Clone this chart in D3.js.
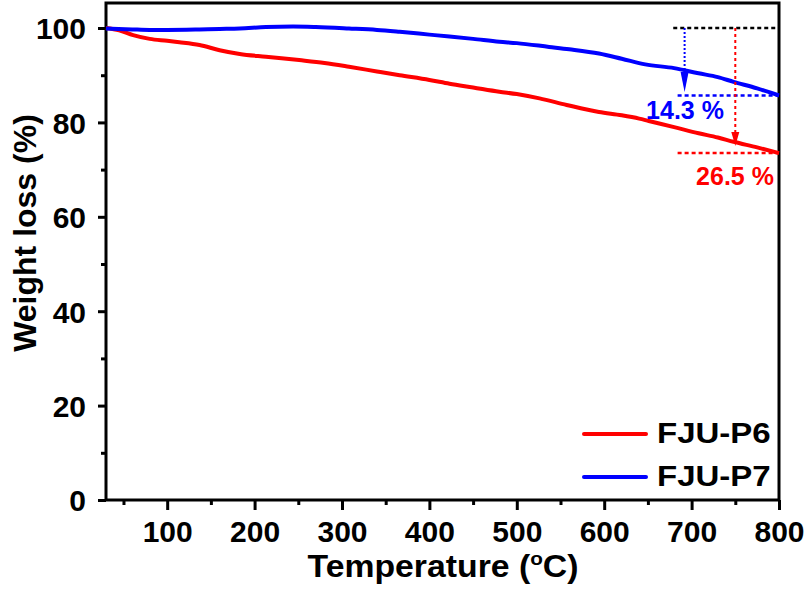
<!DOCTYPE html>
<html><head><meta charset="utf-8">
<script src="https://cdn.jsdelivr.net/npm/d3@7"></script>
<style>body{margin:0;background:#fff}svg{display:block}text{font-family:"Liberation Sans",Arial,sans-serif;font-weight:bold}</style>
</head><body>
<svg id="c" width="810" height="590"></svg>
<script>
const tempsP6 = [30, 45, 61, 80, 100, 114, 137, 160, 183, 213, 251, 280, 308, 340, 366, 400, 423, 450, 480, 500, 526, 557, 594, 620, 640, 651, 680, 708, 730, 748, 775, 800];
const p6 = [100, 99.5, 98.5, 97.7, 97.3, 97.0, 96.4, 95.3, 94.5, 93.9, 93.2, 92.6, 91.8, 90.8, 90.0, 89.0, 88.2, 87.4, 86.5, 86.0, 85.1, 83.7, 82.2, 81.5, 80.8, 80.3, 79.0, 77.7, 76.8, 75.9, 74.7, 73.5];
const tempsP7 = [30, 60, 80, 100, 137, 160, 183, 213, 244, 270, 308, 340, 366, 400, 423, 450, 480, 500, 537, 560, 594, 620, 647, 680, 708, 730, 748, 775, 800];
const p7 = [99.9, 99.7, 99.6, 99.6, 99.7, 99.8, 99.9, 100.2, 100.3, 100.2, 99.9, 99.6, 99.2, 98.6, 98.2, 97.7, 97.1, 96.8, 96.0, 95.5, 94.6, 93.5, 92.3, 91.5, 90.4, 89.6, 88.6, 87.2, 85.7];
const seriesNames = ["FJU-P6", "FJU-P7"];
const seriesColors = ["#ff0000", "#0000ff"];
const xTicks = [100, 200, 300, 400, 500, 600, 700, 800];
const yTicks = [0, 20, 40, 60, 80, 100];
const annotLabels = ["14.3 %", "26.5 %"];
const annotTemps = [692, 750];
const annotEnd = [85.7, 73.5];

const svg = d3.select("#c");
const L = 106, R = 779, T = 3, B = 500;
const x = d3.scaleLinear().domain([30, 800]).range([L, R]);
const y = d3.scaleLinear().domain([0, 105.3]).range([B, T]);

// frame
svg.append("rect").attr("x", L).attr("y", T).attr("width", R - L).attr("height", B - T)
  .attr("fill", "none").attr("stroke", "#000").attr("stroke-width", 3);

// axes
const xa = svg.append("g").attr("transform", `translate(0,${B})`)
  .call(d3.axisBottom(x).tickValues(xTicks).tickSize(10).tickPadding(9).tickFormat(d3.format("d")));
const xm = svg.append("g").attr("transform", `translate(0,${B})`)
  .call(d3.axisBottom(x).tickValues(d3.range(50, 800, 100)).tickSize(5).tickFormat(""));
const ya = svg.append("g").attr("transform", `translate(${L},0)`)
  .call(d3.axisLeft(y).tickValues(yTicks).tickSize(8).tickPadding(12).tickFormat(d3.format("d")));
const ym = svg.append("g").attr("transform", `translate(${L},0)`)
  .call(d3.axisLeft(y).tickValues(d3.range(10, 101, 20)).tickSize(5).tickFormat(""));
[xa, xm, ya, ym].forEach(g => {
  g.select(".domain").remove();
  g.selectAll(".tick line").attr("stroke", "#000").attr("stroke-width", 3);
  g.selectAll("text").attr("fill", "#000").style("font-size", "30px")
    .style("font-family", "'Liberation Sans', Arial, sans-serif").style("font-weight", "bold");
});
xa.selectAll("text").attr("dy", "0.78em");
ya.selectAll("text").attr("dy", "0.36em");

// axis titles
const xt = svg.append("text").attr("transform", "translate(443,577) scale(1.09,1)").attr("text-anchor", "middle")
  .style("font-size", "31px").attr("fill", "#000");
xt.append("tspan").text("Temperature (");
xt.append("tspan").text("o").style("font-size", "19px").attr("dy", "-12");
xt.append("tspan").text("C)").attr("dy", "12");
svg.append("text").attr("transform", "translate(36,233) rotate(-90)").attr("text-anchor", "middle")
  .style("font-size", "32px").attr("fill", "#000").text("Weight loss (%)");

// lines
[[tempsP6, p6], [tempsP7, p7]].forEach(([ts, s], k) => {
  const line = d3.line().x((d, i) => x(ts[i])).y(d => y(d)).curve(d3.curveMonotoneX);
  svg.append("path").attr("d", line(s)).attr("fill", "none")
    .attr("stroke", seriesColors[k]).attr("stroke-width", 4).attr("stroke-linejoin", "round");
});

// annotations
const dash = "4,3";
svg.append("line").attr("x1", x(679)).attr("x2", x(796)).attr("y1", y(100)).attr("y2", y(100))
  .attr("stroke", "#000").attr("stroke-width", 2.5).attr("stroke-dasharray", dash);
[0, 1].forEach(k => {
  const c = seriesColors[1 - k];
  const ax = x(annotTemps[k]);
  const yEnd = y(annotEnd[k]);
  svg.append("line").attr("x1", x(684)).attr("x2", R).attr("y1", yEnd).attr("y2", yEnd)
    .attr("stroke", c).attr("stroke-width", 2.5).attr("stroke-dasharray", dash);
  const tipY = k === 0 ? yEnd - 3.5 : yEnd - 7;
  const headLen = k === 0 ? 20 : 14;
  svg.append("line").attr("x1", ax).attr("x2", ax).attr("y1", y(100)).attr("y2", tipY - headLen)
    .attr("stroke", c).attr("stroke-width", 2).attr("stroke-dasharray", k === 0 ? "2,2" : "3,3");
  svg.append("path").attr("d", `M${ax - 4},${tipY - headLen}L${ax + 4},${tipY - headLen}L${ax},${tipY}Z`).attr("fill", c);
});
svg.append("text").attr("x", 685).attr("y", 119).attr("text-anchor", "middle").style("font-size", "25px")
  .attr("fill", seriesColors[1]).text(annotLabels[0]);
svg.append("text").attr("x", 735).attr("y", 185).attr("text-anchor", "middle").style("font-size", "25px")
  .attr("fill", seriesColors[0]).text(annotLabels[1]);

// legend
seriesNames.forEach((n, k) => {
  const ly = 434 + k * 43;
  svg.append("line").attr("x1", 584).attr("x2", 646).attr("y1", ly).attr("y2", ly)
    .attr("stroke", seriesColors[k]).attr("stroke-width", 4).attr("stroke-linecap", "round");
  svg.append("text").attr("transform", `translate(657,${ly + 9}) scale(1.1,1)`).style("font-size", "30px")
    .attr("fill", "#000").text(n);
});
</script>
</body></html>
